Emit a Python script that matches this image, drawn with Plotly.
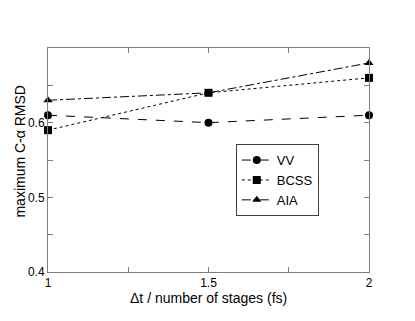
import plotly.graph_objects as go

# stepsize per stage (fs)
dt = [1, 1.5, 2]

vv = [0.61, 0.60, 0.61]
bcss = [0.59, 0.64, 0.66]
aia = [0.63, 0.64, 0.68]

series = [
    ("VV", vv, "circle", "dash"),
    ("BCSS", bcss, "square", "dot"),
    ("AIA", aia, "triangle-up", "dashdot"),
]

fig = go.Figure()
for name, vals, sym, dash in series:
    fig.add_trace(go.Scatter(
        x=dt, y=vals, name=name, mode="lines+markers",
        line=dict(color="black", width=1, dash=dash),
        marker=dict(symbol=sym, size=8, color="black"),
        cliponaxis=False,
    ))

axis_common = dict(
    showline=True, linecolor="#808080", linewidth=1, mirror="allticks",
    ticks="inside", ticklen=5, tickcolor="#808080", showgrid=False,
    zeroline=False, automargin=False, tickfont=dict(size=12, color="black"),
)

# page has an 8px body margin, so margins are offset to put the plot at the same spot
fig.update_layout(
    width=415, height=321,
    margin=dict(l=40, r=54, t=40, b=57),
    paper_bgcolor="white", plot_bgcolor="white",
    font=dict(family="Liberation Sans, Arial, sans-serif", size=13, color="black"),
    xaxis=dict(
        range=[1, 2], tickvals=[1, 1.5, 2], ticktext=["1", "1.5", "2"],
        minor=dict(ticks="inside", tickvals=[1.25, 1.75], ticklen=5, tickcolor="#808080"),
        **axis_common,
    ),
    yaxis=dict(
        range=[0.4, 0.7], tickvals=[0.4, 0.5, 0.6], ticktext=["0.4", "0.5", "0.6"],
        minor=dict(ticks="inside", tickvals=[0.45, 0.55, 0.65, 0.7], ticklen=5, tickcolor="#808080"),
        **axis_common,
    ),
    legend=dict(
        x=0.585, y=0.571, xanchor="left", yanchor="top",
        bordercolor="#404040", borderwidth=1, bgcolor="white",
        font=dict(size=13), itemwidth=30, tracegroupgap=0,
    ),
    annotations=[
        dict(text="Δt / number of stages (fs)", xref="paper", yref="paper",
             x=0.5, y=-0.118, xanchor="center", yanchor="middle",
             showarrow=False, font=dict(size=14), borderpad=0),
        dict(text="maximum C-α RMSD", xref="paper", yref="paper",
             x=-0.087, y=0.538, xanchor="center", yanchor="middle",
             textangle=-90, showarrow=False, font=dict(size=14), borderpad=0),
    ],
)

fig.write_html("out.html")
